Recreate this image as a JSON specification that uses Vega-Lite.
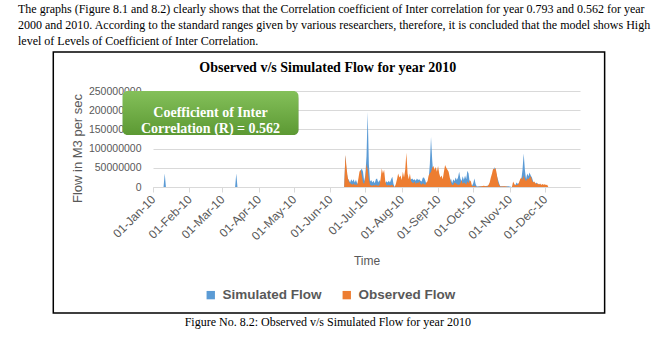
{
  "$schema": "https://vega.github.io/schema/vega-lite/v6.json",
  "width": 427,
  "height": 96,
  "autosize": {"type": "none"},
  "padding": {"left": 153, "top": 91, "right": 85, "bottom": 154},
  "config": {"view": {"stroke": null}, "font": "Liberation Sans"},
  "title": {
    "text": [
      "The graphs (Figure 8.1 and 8.2) clearly shows that the Correlation coefficient of Inter correlation for year 0.793 and 0.562 for year",
      "2000 and 2010. According to the standard ranges given by various researchers, therefore, it is concluded that the model shows High",
      "level of Levels of Coefficient of Inter Correlation."
    ],
    "anchor": "start",
    "frame": "group",
    "dx": -135,
    "offset": 3,
    "font": "Liberation Serif",
    "fontSize": 12,
    "fontWeight": "normal",
    "color": "black",
    "lineHeight": 16
  },
  "data": {
    "values": [
      {"date": "2010-01-01", "simulated": 0, "observed": 0},
      {"date": "2010-01-10", "simulated": 0, "observed": 0},
      {"date": "2010-01-11", "simulated": 35000000, "observed": 0},
      {"date": "2010-01-12", "simulated": 0, "observed": 0},
      {"date": "2010-03-12", "simulated": 0, "observed": 0},
      {"date": "2010-03-13", "simulated": 35000000, "observed": 0},
      {"date": "2010-03-14", "simulated": 0, "observed": 0},
      {"date": "2010-06-13", "simulated": 0, "observed": 0},
      {"date": "2010-06-14", "simulated": 83000000, "observed": 84000000},
      {"date": "2010-06-15", "simulated": 40000000, "observed": 50000000},
      {"date": "2010-06-16", "simulated": 22000000, "observed": 25000000},
      {"date": "2010-06-17", "simulated": 18000000, "observed": 14000000},
      {"date": "2010-06-18", "simulated": 12000000, "observed": 10000000},
      {"date": "2010-06-19", "simulated": 20000000, "observed": 8000000},
      {"date": "2010-06-20", "simulated": 14000000, "observed": 6000000},
      {"date": "2010-06-21", "simulated": 20000000, "observed": 9000000},
      {"date": "2010-06-22", "simulated": 12000000, "observed": 5000000},
      {"date": "2010-06-23", "simulated": 19000000, "observed": 7000000},
      {"date": "2010-06-24", "simulated": 10000000, "observed": 4000000},
      {"date": "2010-06-25", "simulated": 8000000, "observed": 20000000},
      {"date": "2010-06-26", "simulated": 30000000, "observed": 40000000},
      {"date": "2010-06-27", "simulated": 42000000, "observed": 45000000},
      {"date": "2010-06-28", "simulated": 48000000, "observed": 30000000},
      {"date": "2010-06-29", "simulated": 40000000, "observed": 12000000},
      {"date": "2010-06-30", "simulated": 15000000, "observed": 8000000},
      {"date": "2010-07-01", "simulated": 30000000, "observed": 25000000},
      {"date": "2010-07-02", "simulated": 80000000, "observed": 60000000},
      {"date": "2010-07-03", "simulated": 195000000, "observed": 45000000},
      {"date": "2010-07-04", "simulated": 60000000, "observed": 20000000},
      {"date": "2010-07-05", "simulated": 14000000, "observed": 6000000},
      {"date": "2010-07-06", "simulated": 18000000, "observed": 4000000},
      {"date": "2010-07-07", "simulated": 12000000, "observed": 3000000},
      {"date": "2010-07-08", "simulated": 16000000, "observed": 5000000},
      {"date": "2010-07-09", "simulated": 10000000, "observed": 3000000},
      {"date": "2010-07-10", "simulated": 20000000, "observed": 6000000},
      {"date": "2010-07-11", "simulated": 22000000, "observed": 4000000},
      {"date": "2010-07-12", "simulated": 12000000, "observed": 3000000},
      {"date": "2010-07-13", "simulated": 18000000, "observed": 5000000},
      {"date": "2010-07-14", "simulated": 10000000, "observed": 20000000},
      {"date": "2010-07-15", "simulated": 12000000, "observed": 48000000},
      {"date": "2010-07-16", "simulated": 20000000, "observed": 35000000},
      {"date": "2010-07-17", "simulated": 8000000, "observed": 45000000},
      {"date": "2010-07-18", "simulated": 10000000, "observed": 15000000},
      {"date": "2010-07-19", "simulated": 15000000, "observed": 5000000},
      {"date": "2010-07-20", "simulated": 12000000, "observed": 4000000},
      {"date": "2010-07-21", "simulated": 16000000, "observed": 6000000},
      {"date": "2010-07-22", "simulated": 12000000, "observed": 3000000},
      {"date": "2010-07-23", "simulated": 20000000, "observed": 5000000},
      {"date": "2010-07-24", "simulated": 27000000, "observed": 6000000},
      {"date": "2010-07-25", "simulated": 8000000, "observed": 2000000},
      {"date": "2010-07-26", "simulated": 0, "observed": 0},
      {"date": "2010-07-27", "simulated": 2000000, "observed": 8000000},
      {"date": "2010-07-28", "simulated": 6000000, "observed": 20000000},
      {"date": "2010-07-29", "simulated": 10000000, "observed": 35000000},
      {"date": "2010-07-30", "simulated": 8000000, "observed": 25000000},
      {"date": "2010-07-31", "simulated": 12000000, "observed": 30000000},
      {"date": "2010-08-01", "simulated": 10000000, "observed": 18000000},
      {"date": "2010-08-02", "simulated": 14000000, "observed": 40000000},
      {"date": "2010-08-03", "simulated": 12000000, "observed": 25000000},
      {"date": "2010-08-04", "simulated": 18000000, "observed": 45000000},
      {"date": "2010-08-05", "simulated": 20000000, "observed": 89000000},
      {"date": "2010-08-06", "simulated": 25000000, "observed": 35000000},
      {"date": "2010-08-07", "simulated": 15000000, "observed": 20000000},
      {"date": "2010-08-08", "simulated": 18000000, "observed": 35000000},
      {"date": "2010-08-09", "simulated": 20000000, "observed": 15000000},
      {"date": "2010-08-10", "simulated": 22000000, "observed": 12000000},
      {"date": "2010-08-11", "simulated": 18000000, "observed": 10000000},
      {"date": "2010-08-12", "simulated": 20000000, "observed": 14000000},
      {"date": "2010-08-13", "simulated": 16000000, "observed": 8000000},
      {"date": "2010-08-14", "simulated": 22000000, "observed": 12000000},
      {"date": "2010-08-15", "simulated": 18000000, "observed": 10000000},
      {"date": "2010-08-16", "simulated": 20000000, "observed": 15000000},
      {"date": "2010-08-17", "simulated": 16000000, "observed": 8000000},
      {"date": "2010-08-18", "simulated": 14000000, "observed": 6000000},
      {"date": "2010-08-19", "simulated": 24000000, "observed": 10000000},
      {"date": "2010-08-20", "simulated": 25000000, "observed": 8000000},
      {"date": "2010-08-21", "simulated": 18000000, "observed": 5000000},
      {"date": "2010-08-22", "simulated": 8000000, "observed": 12000000},
      {"date": "2010-08-23", "simulated": 10000000, "observed": 15000000},
      {"date": "2010-08-24", "simulated": 20000000, "observed": 30000000},
      {"date": "2010-08-25", "simulated": 60000000, "observed": 35000000},
      {"date": "2010-08-26", "simulated": 130000000, "observed": 40000000},
      {"date": "2010-08-27", "simulated": 70000000, "observed": 50000000},
      {"date": "2010-08-28", "simulated": 30000000, "observed": 55000000},
      {"date": "2010-08-29", "simulated": 25000000, "observed": 45000000},
      {"date": "2010-08-30", "simulated": 20000000, "observed": 52000000},
      {"date": "2010-08-31", "simulated": 22000000, "observed": 40000000},
      {"date": "2010-09-01", "simulated": 18000000, "observed": 55000000},
      {"date": "2010-09-02", "simulated": 15000000, "observed": 35000000},
      {"date": "2010-09-03", "simulated": 14000000, "observed": 25000000},
      {"date": "2010-09-04", "simulated": 12000000, "observed": 30000000},
      {"date": "2010-09-05", "simulated": 10000000, "observed": 20000000},
      {"date": "2010-09-06", "simulated": 12000000, "observed": 40000000},
      {"date": "2010-09-07", "simulated": 14000000, "observed": 57000000},
      {"date": "2010-09-08", "simulated": 16000000, "observed": 50000000},
      {"date": "2010-09-09", "simulated": 15000000, "observed": 45000000},
      {"date": "2010-09-10", "simulated": 18000000, "observed": 40000000},
      {"date": "2010-09-11", "simulated": 14000000, "observed": 25000000},
      {"date": "2010-09-12", "simulated": 22000000, "observed": 12000000},
      {"date": "2010-09-13", "simulated": 10000000, "observed": 5000000},
      {"date": "2010-09-14", "simulated": 20000000, "observed": 6000000},
      {"date": "2010-09-15", "simulated": 15000000, "observed": 12000000},
      {"date": "2010-09-16", "simulated": 25000000, "observed": 10000000},
      {"date": "2010-09-17", "simulated": 18000000, "observed": 8000000},
      {"date": "2010-09-18", "simulated": 25000000, "observed": 5000000},
      {"date": "2010-09-19", "simulated": 40000000, "observed": 6000000},
      {"date": "2010-09-20", "simulated": 22000000, "observed": 10000000},
      {"date": "2010-09-21", "simulated": 15000000, "observed": 18000000},
      {"date": "2010-09-22", "simulated": 28000000, "observed": 8000000},
      {"date": "2010-09-23", "simulated": 18000000, "observed": 12000000},
      {"date": "2010-09-24", "simulated": 30000000, "observed": 10000000},
      {"date": "2010-09-25", "simulated": 20000000, "observed": 6000000},
      {"date": "2010-09-26", "simulated": 42000000, "observed": 15000000},
      {"date": "2010-09-27", "simulated": 35000000, "observed": 10000000},
      {"date": "2010-09-28", "simulated": 12000000, "observed": 18000000},
      {"date": "2010-09-29", "simulated": 5000000, "observed": 14000000},
      {"date": "2010-09-30", "simulated": 3000000, "observed": 2000000},
      {"date": "2010-10-01", "simulated": 10000000, "observed": 2000000},
      {"date": "2010-10-02", "simulated": 22000000, "observed": 3000000},
      {"date": "2010-10-03", "simulated": 8000000, "observed": 1000000},
      {"date": "2010-10-04", "simulated": 1000000, "observed": 0},
      {"date": "2010-10-07", "simulated": 2000000, "observed": 1000000},
      {"date": "2010-10-10", "simulated": 1000000, "observed": 3000000},
      {"date": "2010-10-13", "simulated": 3000000, "observed": 1000000},
      {"date": "2010-10-14", "simulated": 3000000, "observed": 5000000},
      {"date": "2010-10-15", "simulated": 8000000, "observed": 12000000},
      {"date": "2010-10-16", "simulated": 15000000, "observed": 25000000},
      {"date": "2010-10-17", "simulated": 25000000, "observed": 35000000},
      {"date": "2010-10-18", "simulated": 38000000, "observed": 48000000},
      {"date": "2010-10-19", "simulated": 52000000, "observed": 45000000},
      {"date": "2010-10-20", "simulated": 40000000, "observed": 50000000},
      {"date": "2010-10-21", "simulated": 30000000, "observed": 35000000},
      {"date": "2010-10-22", "simulated": 20000000, "observed": 15000000},
      {"date": "2010-10-23", "simulated": 10000000, "observed": 5000000},
      {"date": "2010-10-24", "simulated": 2000000, "observed": 1000000},
      {"date": "2010-10-28", "simulated": 1000000, "observed": 2000000},
      {"date": "2010-10-31", "simulated": 2000000, "observed": 0},
      {"date": "2010-11-03", "simulated": 0, "observed": 0},
      {"date": "2010-11-04", "simulated": 5000000, "observed": 14000000},
      {"date": "2010-11-05", "simulated": 3000000, "observed": 8000000},
      {"date": "2010-11-06", "simulated": 6000000, "observed": 4000000},
      {"date": "2010-11-07", "simulated": 12000000, "observed": 6000000},
      {"date": "2010-11-08", "simulated": 8000000, "observed": 5000000},
      {"date": "2010-11-09", "simulated": 10000000, "observed": 12000000},
      {"date": "2010-11-10", "simulated": 15000000, "observed": 20000000},
      {"date": "2010-11-11", "simulated": 20000000, "observed": 25000000},
      {"date": "2010-11-12", "simulated": 45000000, "observed": 18000000},
      {"date": "2010-11-13", "simulated": 87000000, "observed": 30000000},
      {"date": "2010-11-14", "simulated": 45000000, "observed": 20000000},
      {"date": "2010-11-15", "simulated": 20000000, "observed": 15000000},
      {"date": "2010-11-16", "simulated": 35000000, "observed": 22000000},
      {"date": "2010-11-17", "simulated": 28000000, "observed": 20000000},
      {"date": "2010-11-18", "simulated": 38000000, "observed": 25000000},
      {"date": "2010-11-19", "simulated": 30000000, "observed": 28000000},
      {"date": "2010-11-20", "simulated": 25000000, "observed": 18000000},
      {"date": "2010-11-21", "simulated": 15000000, "observed": 12000000},
      {"date": "2010-11-22", "simulated": 10000000, "observed": 14000000},
      {"date": "2010-11-23", "simulated": 8000000, "observed": 10000000},
      {"date": "2010-11-24", "simulated": 12000000, "observed": 8000000},
      {"date": "2010-11-25", "simulated": 6000000, "observed": 10000000},
      {"date": "2010-11-26", "simulated": 8000000, "observed": 6000000},
      {"date": "2010-11-27", "simulated": 5000000, "observed": 9000000},
      {"date": "2010-11-28", "simulated": 6000000, "observed": 5000000},
      {"date": "2010-11-29", "simulated": 4000000, "observed": 8000000},
      {"date": "2010-11-30", "simulated": 5000000, "observed": 6000000},
      {"date": "2010-12-01", "simulated": 3000000, "observed": 7000000},
      {"date": "2010-12-02", "simulated": 4000000, "observed": 5000000},
      {"date": "2010-12-03", "simulated": 2000000, "observed": 6000000},
      {"date": "2010-12-04", "simulated": 0, "observed": 0},
      {"date": "2010-12-31", "simulated": 0, "observed": 0}
    ]
  },
  "layer": [
    {
      "mark": {"type": "area", "interpolate": "linear"},
      "encoding": {
        "x": {
          "field": "date",
          "type": "temporal",
          "scale": {"domain": [{"year": 2010, "month": 1, "date": 1}, {"year": 2010, "month": 12, "date": 31}], "nice": false},
          "axis": {
            "values": [
              {"year": 2010, "month": 1, "date": 1}, {"year": 2010, "month": 2, "date": 1},
              {"year": 2010, "month": 3, "date": 1}, {"year": 2010, "month": 4, "date": 1},
              {"year": 2010, "month": 5, "date": 1}, {"year": 2010, "month": 6, "date": 1},
              {"year": 2010, "month": 7, "date": 1}, {"year": 2010, "month": 8, "date": 1},
              {"year": 2010, "month": 9, "date": 1}, {"year": 2010, "month": 10, "date": 1},
              {"year": 2010, "month": 11, "date": 1}, {"year": 2010, "month": 12, "date": 1}
            ],
            "tickCount": 30,
            "format": "%d-%b-%y",
            "labelAngle": -45,
            "labelAlign": "right",
            "labelBaseline": "middle",
            "labelOverlap": false,
            "labelFontSize": 12,
            "labelColor": "#595959",
            "labelPadding": 5,
            "tickColor": "#d9d9d9",
            "tickSize": 5,
            "domainColor": "#d9d9d9",
            "grid": false,
            "title": "Time",
            "titleFontSize": 12,
            "titleFontWeight": "normal",
            "titleColor": "#595959",
            "titlePadding": 14
          }
        },
        "y": {
          "field": "simulated",
          "type": "quantitative",
          "scale": {"domain": [0, 250000000], "nice": false},
          "axis": {
            "values": [0, 50000000, 100000000, 150000000, 200000000, 250000000],
            "tickCount": 20,
            "format": "d",
            "grid": true,
            "gridColor": "#d9d9d9",
            "ticks": false,
            "domain": false,
            "labelOverlap": false,
            "labelFontSize": 10.5,
            "labelColor": "#595959",
            "labelPadding": 12,
            "title": "Flow in M3 per sec",
            "titleFontSize": 13,
            "titleFontWeight": "normal",
            "titleColor": "#595959",
            "titlePadding": 4,
            "titleY": 57
          }
        },
        "color": {
          "datum": "Simulated Flow",
          "scale": {"domain": ["Simulated Flow", "Observed Flow"], "range": ["#5b9bd5", "#ed7d31"]},
          "legend": {
            "orient": "none",
            "legendX": 51,
            "legendY": 197,
            "direction": "horizontal",
            "title": null,
            "symbolType": "square",
            "symbolSize": 70,
            "symbolOpacity": 1,
            "symbolStrokeWidth": 0,
            "labelFont": "Liberation Sans",
            "labelFontSize": 13.5,
            "labelFontWeight": "bold",
            "labelColor": "#595959",
            "labelOffset": 5,
            "columnPadding": 18
          }
        }
      }
    },
    {
      "mark": {"type": "area", "interpolate": "linear"},
      "encoding": {
        "x": {"field": "date", "type": "temporal"},
        "y": {"field": "observed", "type": "quantitative", "axis": {"title": "Flow in M3 per sec"}},
        "color": {"datum": "Observed Flow"}
      }
    },
    {
      "data": {"values": [{}]},
      "mark": {"type": "rect", "fill": "white", "fillOpacity": 0, "stroke": "black", "strokeWidth": 1.5, "clip": false},
      "encoding": {
        "x": {"datum": {"year": 2009, "month": 10, "date": 8}, "type": "temporal"},
        "x2": {"datum": {"year": 2011, "month": 1, "date": 21}},
        "y": {"datum": 351600000, "type": "quantitative"},
        "y2": {"datum": -328000000}
      }
    },
    {
      "data": {"values": [{}]},
      "mark": {"type": "text", "font": "Liberation Serif", "fontSize": 14, "fontWeight": "bold", "color": "black", "align": "center", "baseline": "middle", "clip": false},
      "encoding": {
        "x": {"datum": {"year": 2010, "month": 5, "date": 30}, "type": "temporal"},
        "y": {"datum": 309900000, "type": "quantitative"},
        "text": {"value": "Observed v/s Simulated Flow for year 2010"}
      }
    },
    {
      "data": {"values": [{}]},
      "mark": {"type": "text", "font": "Liberation Serif", "fontSize": 12, "color": "black", "align": "center", "baseline": "middle", "clip": false},
      "encoding": {
        "x": {"datum": {"year": 2010, "month": 5, "date": 30}, "type": "temporal"},
        "y": {"datum": -351500000, "type": "quantitative"},
        "text": {"value": "Figure No. 8.2: Observed v/s Simulated Flow for year 2010"}
      }
    },
    {
      "data": {"values": [{}]},
      "mark": {"type": "rect", "color": "black", "opacity": 0.3, "cornerRadius": 5, "xOffset": 2, "yOffset": 3, "clip": false},
      "encoding": {
        "x": {"datum": {"year": 2009, "month": 12, "date": 6}, "type": "temporal"},
        "x2": {"datum": {"year": 2010, "month": 5, "date": 5}},
        "y": {"datum": 250000000, "type": "quantitative"},
        "y2": {"datum": 135400000}
      }
    },
    {
      "data": {"values": [{}]},
      "mark": {
        "type": "rect",
        "cornerRadius": 5,
        "clip": false,
        "fill": {"gradient": "linear", "x1": 0, "y1": 0, "x2": 0, "y2": 1, "stops": [{"offset": 0, "color": "#84c05a"}, {"offset": 1, "color": "#5c9933"}]}
      },
      "encoding": {
        "x": {"datum": {"year": 2009, "month": 12, "date": 6}, "type": "temporal"},
        "x2": {"datum": {"year": 2010, "month": 5, "date": 5}},
        "y": {"datum": 250000000, "type": "quantitative"},
        "y2": {"datum": 135400000}
      }
    },
    {
      "data": {"values": [{}]},
      "mark": {"type": "text", "font": "Liberation Serif", "fontSize": 14, "fontWeight": "bold", "color": "white", "align": "center", "baseline": "middle", "lineBreak": "\n", "lineHeight": 16, "clip": false},
      "encoding": {
        "x": {"datum": {"year": 2010, "month": 2, "date": 19}, "type": "temporal"},
        "y": {"datum": 192000000, "type": "quantitative"},
        "text": {"value": "Coefficient of Inter\nCorrelation (R) = 0.562"}
      }
    }
  ]
}
